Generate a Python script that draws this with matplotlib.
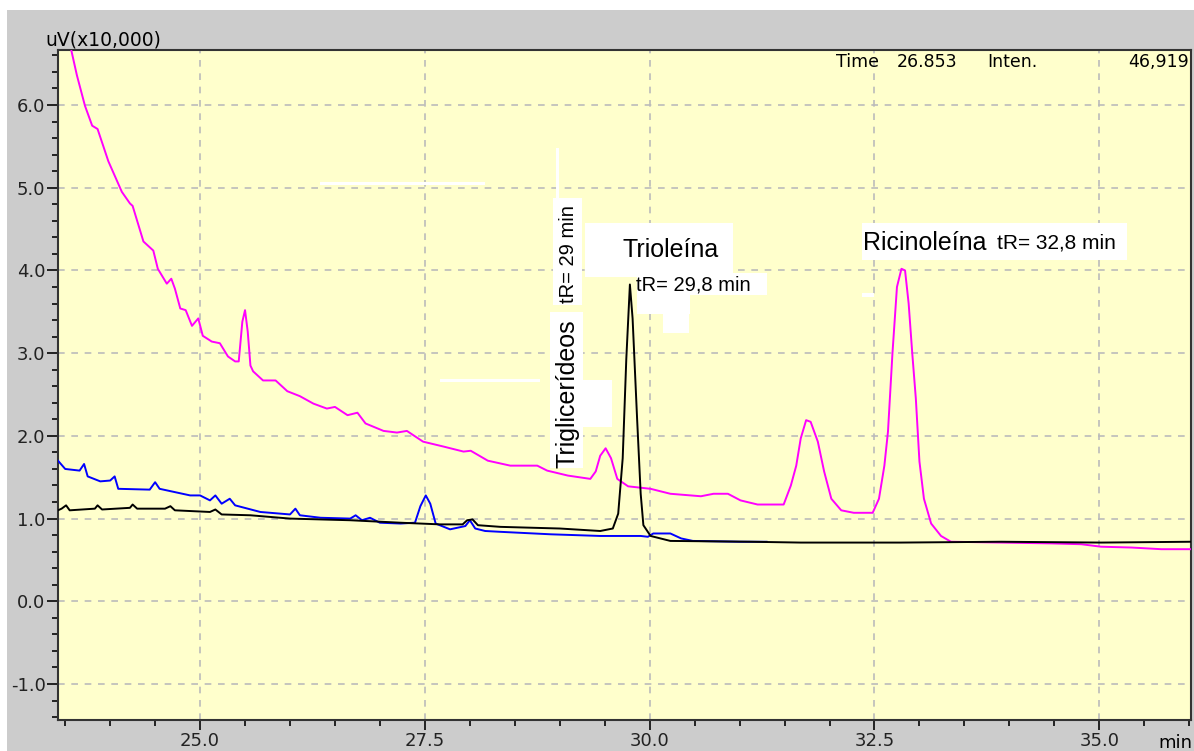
import matplotlib.pyplot as plt
import matplotlib
from matplotlib.patches import Rectangle
from matplotlib.ticker import MultipleLocator

matplotlib.rcParams['font.family'] = ['Liberation Sans', 'DejaVu Sans']

# cromatograma - tempo (min) x intensidade (uV x10000)
t_mag = [23.56, 23.63, 23.72, 23.80, 23.86, 23.98, 24.13, 24.22, 24.25, 24.37, 24.48, 24.53,
         24.63, 24.68, 24.72, 24.78, 24.84, 24.91, 24.98, 25.03, 25.13, 25.22, 25.31, 25.39,
         25.43, 25.47, 25.50, 25.53, 25.56, 25.59, 25.70, 25.84, 25.97, 26.11, 26.26, 26.41,
         26.50, 26.64, 26.75, 26.84, 27.04, 27.19, 27.30, 27.48, 27.71, 27.93, 28.01, 28.20,
         28.45, 28.75, 28.86, 29.09, 29.34, 29.40, 29.45, 29.51, 29.57, 29.64, 29.76, 30.01,
         30.23, 30.57, 30.71, 30.87, 31.01, 31.20, 31.49, 31.57, 31.63, 31.68, 31.74, 31.79,
         31.87, 31.94, 32.02, 32.13, 32.27, 32.48, 32.55, 32.61, 32.65, 32.70, 32.75, 32.80,
         32.84, 32.88, 32.92, 32.96, 33.00, 33.05, 33.13, 33.24, 33.35, 33.91, 34.47, 34.80,
         35.02, 35.36, 35.69, 36.02]
i_mag = [6.70, 6.36, 5.99, 5.75, 5.71, 5.32, 4.95, 4.81, 4.78, 4.35, 4.24, 4.02,
         3.84, 3.90, 3.78, 3.54, 3.52, 3.33, 3.42, 3.21, 3.14, 3.12, 2.96, 2.90,
         2.90, 3.38, 3.52, 3.26, 2.85, 2.78, 2.67, 2.67, 2.54, 2.48, 2.39, 2.33,
         2.35, 2.25, 2.28, 2.15, 2.06, 2.04, 2.06, 1.93, 1.87, 1.81, 1.82, 1.70,
         1.64, 1.64, 1.58, 1.52, 1.48, 1.57, 1.76, 1.85, 1.73, 1.48, 1.39, 1.36,
         1.30, 1.27, 1.30, 1.30, 1.22, 1.17, 1.17, 1.40, 1.64, 1.97, 2.19, 2.17,
         1.93, 1.57, 1.24, 1.10, 1.07, 1.07, 1.24, 1.64, 2.05, 3.00, 3.80, 4.02,
         4.00, 3.60, 3.00, 2.45, 1.69, 1.24, 0.94, 0.79, 0.72, 0.71, 0.70, 0.69,
         0.66, 0.65, 0.63, 0.63]

t_blue = [23.42, 23.50, 23.66, 23.71, 23.75, 23.89, 24.00, 24.05, 24.09, 24.44, 24.50, 24.55,
          24.89, 25.00, 25.11, 25.17, 25.24, 25.33, 25.39, 25.67, 26.00, 26.06, 26.11, 26.34,
          26.67, 26.73, 26.80, 26.89, 27.00, 27.23, 27.39, 27.45, 27.51, 27.56, 27.62, 27.78,
          27.95, 28.00, 28.06, 28.17, 28.34, 28.90, 29.45, 29.90, 29.98, 30.04, 30.23, 30.35,
          30.48, 31.00, 31.30]
i_blue = [1.70, 1.60, 1.58, 1.66, 1.51, 1.45, 1.46, 1.51, 1.36, 1.35, 1.44, 1.36,
          1.28, 1.28, 1.22, 1.28, 1.18, 1.24, 1.16, 1.08, 1.05, 1.12, 1.04, 1.01,
          1.00, 1.04, 0.98, 1.01, 0.95, 0.94, 0.95, 1.15, 1.28, 1.18, 0.94, 0.87,
          0.91, 0.98, 0.88, 0.85, 0.84, 0.81, 0.79, 0.79, 0.78, 0.82, 0.82, 0.76,
          0.73, 0.72, 0.72]

t_blk = [23.42, 23.46, 23.51, 23.55, 23.83, 23.86, 23.91, 24.22, 24.25, 24.30, 24.61, 24.67,
         24.72, 25.11, 25.17, 25.24, 25.56, 26.00, 26.67, 27.23, 27.45, 27.67, 27.92, 27.97,
         28.03, 28.09, 28.34, 29.00, 29.45, 29.59, 29.65, 29.70, 29.74, 29.78, 29.81, 29.86,
         29.90, 29.93, 30.01, 30.23, 31.12, 31.68, 32.79, 33.91, 35.02, 36.02]
i_blk = [1.10, 1.12, 1.16, 1.10, 1.12, 1.16, 1.11, 1.13, 1.17, 1.12, 1.12, 1.15,
         1.10, 1.08, 1.11, 1.05, 1.04, 1.00, 0.98, 0.95, 0.94, 0.93, 0.93, 0.98,
         0.99, 0.92, 0.90, 0.88, 0.85, 0.88, 1.06, 1.73, 2.93, 3.83, 3.42, 2.21,
         1.30, 0.92, 0.79, 0.73, 0.72, 0.71, 0.71, 0.72, 0.71, 0.72]

xticks = [25.0, 27.5, 30.0, 32.5, 35.0]
yticks = [-1.0, 0.0, 1.0, 2.0, 3.0, 4.0, 5.0, 6.0]

fig = plt.figure(figsize=(11.94, 7.51), dpi=100)
fig.add_artist(Rectangle((7 / 1194, 0), 1, 741 / 751, transform=fig.transFigure,
                         facecolor='#cccccc', edgecolor='none', zorder=-1))
ax = fig.add_axes([58 / 1194, 31 / 751, 1133 / 1194, 670 / 751])
ax.set_facecolor('#ffffcc')

ax.plot(t_mag, i_mag, color='#ff00ff', lw=1.4, zorder=3)
ax.plot(t_blue, i_blue, color='#0000ff', lw=1.4, zorder=3)
ax.plot(t_blk, i_blk, color='black', lw=1.4, zorder=4)

ax.set_xlim(23.42, 36.02)
ax.set_ylim(-1.435, 6.665)
ax.set_xticks(xticks)
ax.set_yticks(yticks)
ax.set_xticklabels(['%.1f' % v for v in xticks], fontsize=13, family='DejaVu Sans')
ax.set_yticklabels(['%.1f' % v for v in yticks], fontsize=13, family='DejaVu Sans')
ax.xaxis.set_minor_locator(MultipleLocator(0.5))
ax.yaxis.set_minor_locator(MultipleLocator(0.2))
ax.tick_params(axis='x', which='major', direction='out', length=7.5, width=1.4, pad=1)
ax.tick_params(axis='y', which='major', direction='out', length=8, width=1.4, pad=1)
ax.tick_params(which='minor', direction='out', length=4, width=1.4)
ax.tick_params(which='both', colors='#222222')
ax.grid(True, which='major', color='#bbbbbb', linestyle=(0, (4, 4)), linewidth=1.2)
for s in ax.spines.values():
    s.set_color('#333333')
    s.set_linewidth(1.5)

fig.text(45 / 1194, 1 - 40 / 751, 'uV(x10,000)', fontsize=13.5, va='center', ha='left',
         family='DejaVu Sans')
fig.text(1175 / 1194, 1 - 743 / 751, 'min', fontsize=13, va='center', ha='center',
         family='DejaVu Sans')

# cabeçalho do cursor
for xp, s in [(836, 'Time'), (897, '26.853'), (987, 'Inten.')]:
    fig.text(xp / 1194, 1 - 62 / 751, s, fontsize=12.5, va='center', ha='left',
             family='DejaVu Sans')
fig.text(1189 / 1194, 1 - 62 / 751, '46,919', fontsize=12.5, va='center', ha='right',
         family='DejaVu Sans')

# caixas brancas por baixo das anotações
def pbox(x0, y0, x1, y1):
    fig.add_artist(Rectangle((x0 / 1194, 1 - y1 / 751), (x1 - x0) / 1194, (y1 - y0) / 751,
                             transform=fig.transFigure, facecolor='white',
                             edgecolor='none', zorder=5))

pbox(320, 182, 485, 185)
pbox(440, 379, 540, 382)
pbox(556, 148, 559, 300)
pbox(553, 198, 582, 305)
pbox(550, 312, 583, 468)
pbox(583, 380, 612, 427)
pbox(585, 223, 733, 277)
pbox(637, 273, 767, 295)
pbox(637, 295, 690, 314)
pbox(663, 313, 689, 333)
pbox(862, 223, 1127, 260)
pbox(862, 293, 874, 297)

fig.text(567 / 1194, 1 - 394 / 751, 'Triglicerídeos', fontsize=18, rotation=90,
         va='center', ha='center', zorder=6)
fig.text(568 / 1194, 1 - 254 / 751, 'tR= 29 min', fontsize=14.5, rotation=90,
         va='center', ha='center', zorder=6)
fig.text(671 / 1194, 1 - 250 / 751, 'Trioleína', fontsize=18, va='center', ha='center', zorder=6)
fig.text(636 / 1194, 1 - 285 / 751, 'tR= 29,8 min', fontsize=14.5, va='center', ha='left',
         zorder=6)
fig.text(863 / 1194, 1 - 243 / 751, 'Ricinoleína', fontsize=18, va='center', ha='left', zorder=6)
fig.text(997 / 1194, 1 - 243 / 751, 'tR= 32,8 min', fontsize=15, va='center', ha='left', zorder=6)

plt.savefig('out.png', dpi=100)
